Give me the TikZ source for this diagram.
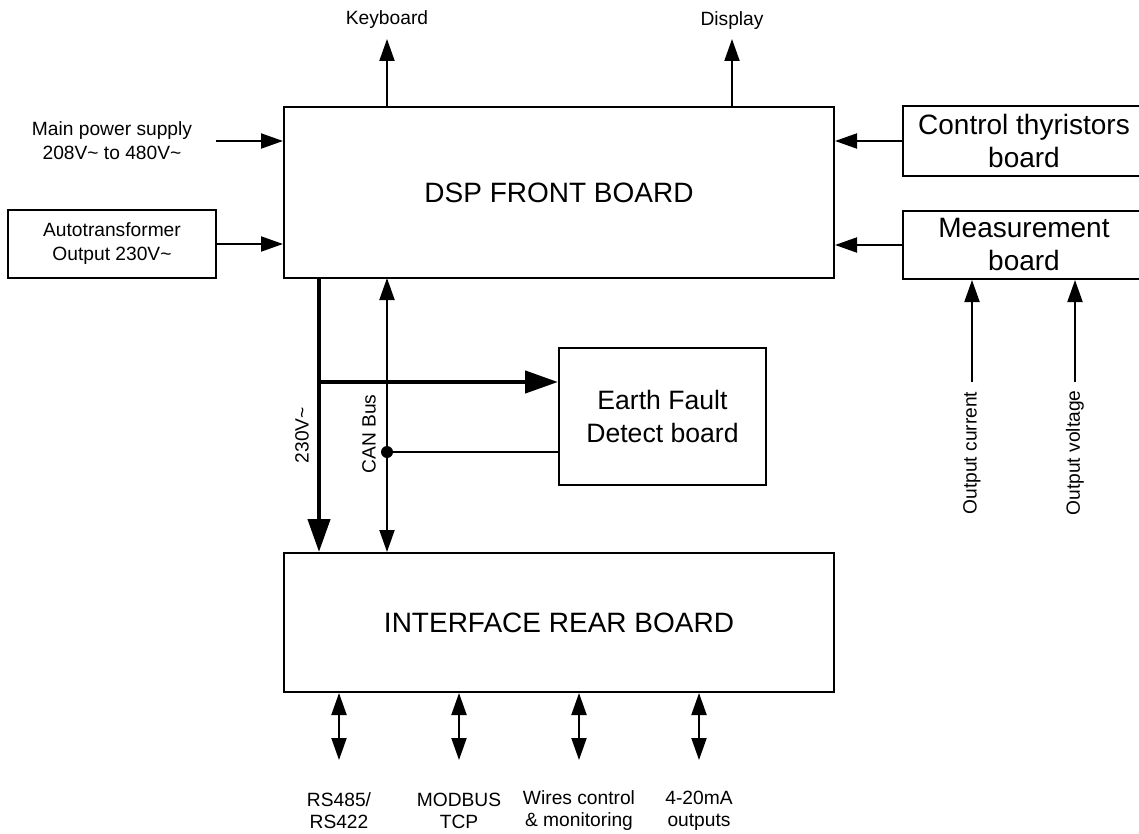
\documentclass[tikz,border=0pt]{standalone}
\usepackage{fontspec}
\setmainfont{Liberation Sans}
\usetikzlibrary{arrows.meta,positioning}
\tikzset{
  board/.style={draw,line width=1pt,align=center,inner sep=0pt},
  small/.style={align=center,inner sep=0pt,font=\fontsize{9.6}{12}\selectfont},
  big/.style={font=\fontsize{14}{16.5}\selectfont},
  arr/.style={-{Triangle[length=11pt,width=7.5pt]},line width=1pt},
  darr/.style={{Triangle[length=11pt,width=7.5pt]}-{Triangle[length=11pt,width=7.5pt]},line width=1pt},
  fatarr/.style={-{Triangle[length=16.5pt,width=11pt]},line width=2.2pt},
}
\begin{document}
\begin{tikzpicture}[x=0.5pt,y=-0.5pt]
\useasboundingbox (0,0) rectangle (1139,834);
% boards
\node[board,big,minimum width=275pt,minimum height=85.5pt] (dsp) at (559,192.5) {DSP FRONT BOARD};
\node[board,big,minimum width=275pt,minimum height=69.5pt] (rear) at (559,622.5) {INTERFACE REAR BOARD};
\node[board,font=\fontsize{13.3}{16.5}\selectfont,minimum width=103.5pt,minimum height=68.5pt] (earth) at (662.5,416.5) {Earth Fault\\Detect board};
\node[board,small,minimum width=104pt,minimum height=34pt] (auto) at (112,244) {Autotransformer\\Output 230V\textasciitilde};
\node[board,big,minimum width=121pt,minimum height=35pt] (thy) at (1024,141) {Control thyristors\\board};
\node[board,big,minimum width=121pt,minimum height=34pt] (meas) at (1024,245) {Measurement\\board};
% labels
\node[small] (kbd) at (387,20) {Keyboard};
\node[small] (disp) at (732,21) {Display};
\node[small] (ps) at (112,141) {Main power supply\\208V\textasciitilde{} to 480V\textasciitilde};
\node[small,rotate=90] (oc) at (972,453) {Output current};
\node[small,rotate=90] (ov) at (1075,453) {Output voltage};
\node[small,rotate=90] (v230) at (302,435) {230V\textasciitilde};
\node[small,rotate=90] (can) at (369,434) {CAN Bus};
\coordinate (kbdend) at (387,39);
\coordinate (dispend) at (732,39);
\coordinate (psend) at (216,141);
\coordinate (ocend) at (972,382);
\coordinate (ovend) at (1075,382);
\coordinate (vtop) at (319,278);
\coordinate (vbr) at (319,382);
\coordinate (ctop) at (387,278);
\coordinate (cdot) at (387,452);
% top and sides
\draw[arr] (dsp.north -| kbdend) -- (kbdend);
\draw[arr] (dsp.north -| dispend) -- (dispend);
\draw[arr] (psend) -- (psend -| dsp.west);
\draw[arr] (auto.east) -- (auto.east -| dsp.west);
\draw[arr] (thy.west) -- (thy.west -| dsp.east);
\draw[arr] (meas.west) -- (meas.west -| dsp.east);
\draw[arr] (ocend) -- (ocend |- meas.south);
\draw[arr] (ovend) -- (ovend |- meas.south);
% 230V and CAN bus
\draw[fatarr] (vtop) -- (vtop |- rear.north);
\draw[fatarr] (vbr) -- (vbr -| earth.west);
\draw[darr] (ctop) -- (ctop |- rear.north);
\draw[line width=1pt] (cdot) -- (cdot -| earth.west);
\fill (cdot) circle (6);
% rear outputs
\foreach \i/\px/\txt in {1/339/{RS485/\\RS422},2/459/{MODBUS\\TCP},3/579/{Wires control\\\& monitoring},4/699/{4-20mA\\outputs}}{
  \node[small,font=\fontsize{9.6}{11}\selectfont] (out\i) at (\px,811) {\txt};
  \coordinate (end\i) at (\px,760);
  \draw[darr] (end\i |- rear.south) -- (end\i);
}
\end{tikzpicture}
\end{document}
